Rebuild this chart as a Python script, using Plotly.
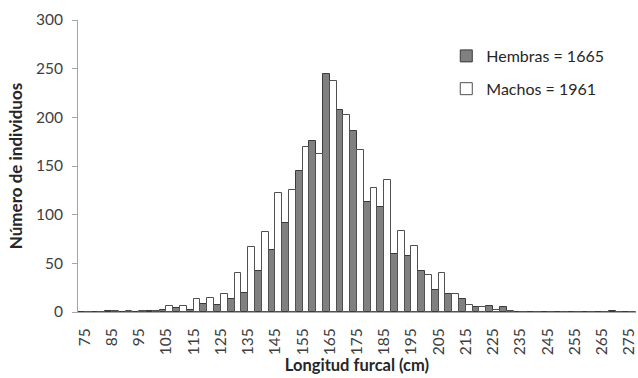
import plotly.graph_objects as go

categorias = [str(v) for v in range(75, 280, 5)]
hembras = [0, 0, 1, 0, 0, 1, 2, 4, 2, 8, 7, 13, 20, 42, 64, 91, 145, 176, 245, 208,
           186, 113, 108, 60, 58, 42, 23, 18, 13, 5, 6, 5, 0, 0, 0, 0, 0, 0, 0, 1, 0]
machos = [0, 0, 1, 1, 1, 1, 6, 6, 13, 14, 18, 40, 67, 82, 122, 125, 170, 162, 237, 202,
          166, 127, 136, 83, 68, 38, 40, 19, 7, 5, 2, 1, 0, 0, 0, 0, 0, 0, 0, 0, 0]
etiquetas_x = [str(v) for v in range(75, 280, 10)]
ticks_y = [0, 50, 100, 150, 200, 250, 300]

FONT = "Lato"
fig = go.Figure()
fig.add_trace(go.Bar(x=categorias, y=hembras, name="Hembras = 1665", legendgroup="h",
                     marker=dict(color="#808080", line=dict(color="#3a3a3a", width=1))))
fig.add_trace(go.Bar(x=categorias, y=machos, name="Machos = 1961", legendgroup="m",
                     marker=dict(color="#ffffff", line=dict(color="#505050", width=1))))

fig.update_layout(
    width=638, height=378,
    margin=dict(l=78, r=2, t=20, b=66),
    plot_bgcolor="white", paper_bgcolor="white",
    barmode="group", bargap=0.0, bargroupgap=0.0,
    font=dict(family=FONT, size=14, color="#404040"),
    legend=dict(x=0.66, y=0.935, xanchor="left", yanchor="top",
                font=dict(family=FONT, size=16, color="#262626"),
                tracegroupgap=9, bgcolor="rgba(0,0,0,0)"),
    xaxis=dict(type="category", tickmode="array", tickvals=etiquetas_x, ticktext=etiquetas_x,
               tickangle=-90, showline=True, linecolor="#a6a6a6", linewidth=1,
               ticks="", showgrid=False, tickfont=dict(size=15.5, color="#404040"),
               ticklabelstandoff=9, automargin=False,
               title=dict(text="<b>Longitud furcal (cm)</b>", font=dict(size=16.5, color="#262626"),
                          standoff=4)),
    yaxis=dict(range=[0, 300], tickvals=ticks_y, showline=True, linecolor="#a6a6a6",
               linewidth=1, ticks="outside", ticklen=5, tickcolor="#a6a6a6",
               ticklabelstandoff=6, automargin=False,
               showgrid=False, zeroline=False, tickfont=dict(size=15.5, color="#404040"),
               title=dict(text="<b>Número de individuos</b>", font=dict(size=17, color="#262626"),
                          standoff=8)),
)
fig.write_html("out.html")
